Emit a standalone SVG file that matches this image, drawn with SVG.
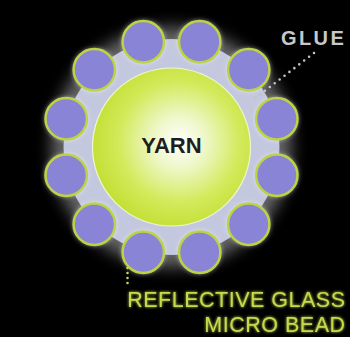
<svg xmlns="http://www.w3.org/2000/svg" width="350" height="337" viewBox="0 0 350 337">
<defs>
<style>
.bead circle{fill:#8a84d6;stroke:#bcd444;stroke-width:2.5}
.lbl{font-family:"Liberation Sans",Arial,sans-serif}
</style>
<radialGradient id="yg" cx="0.55" cy="0.47" r="0.55">
<stop offset="0" stop-color="#ffffff"/>
<stop offset="0.3" stop-color="#eef7c8"/>
<stop offset="0.7" stop-color="#d2ea5a"/>
<stop offset="1" stop-color="#c4e036"/>
</radialGradient>
<filter id="blur12" x="-50%" y="-50%" width="200%" height="200%"><feGaussianBlur stdDeviation="8"/></filter>
<filter id="blur3" x="-50%" y="-50%" width="200%" height="200%"><feGaussianBlur stdDeviation="2.5"/></filter>
<filter id="tglow" x="-20%" y="-50%" width="140%" height="200%"><feGaussianBlur in="SourceGraphic" stdDeviation="1.5" result="b"/><feMerge><feMergeNode in="b"/><feMergeNode in="SourceGraphic"/></feMerge></filter>
</defs>
<rect width="350" height="337" fill="#000"/>
<g id="halo">
<circle cx="171.5" cy="147" r="120" fill="#ffffff" opacity="0.4" filter="url(#blur12)"/>
</g>
<g id="glue">
<circle cx="171.5" cy="147" r="108" fill="#c4c8de"/>
</g>
<g id="beads" class="bead">
<g filter="url(#blur3)" opacity="0.55">
<circle cx="143.3" cy="41.7" r="21.5" style="fill:#fff;stroke:none"/>
<circle cx="199.7" cy="41.7" r="21.5" style="fill:#fff;stroke:none"/>
<circle cx="248.7" cy="69.8" r="21.5" style="fill:#fff;stroke:none"/>
<circle cx="276.8" cy="118.8" r="21.5" style="fill:#fff;stroke:none"/>
<circle cx="276.8" cy="175.2" r="21.5" style="fill:#fff;stroke:none"/>
<circle cx="248.7" cy="224.2" r="21.5" style="fill:#fff;stroke:none"/>
<circle cx="199.7" cy="252.3" r="21.5" style="fill:#fff;stroke:none"/>
<circle cx="143.3" cy="252.3" r="21.5" style="fill:#fff;stroke:none"/>
<circle cx="94.3" cy="224.2" r="21.5" style="fill:#fff;stroke:none"/>
<circle cx="66.2" cy="175.2" r="21.5" style="fill:#fff;stroke:none"/>
<circle cx="66.2" cy="118.8" r="21.5" style="fill:#fff;stroke:none"/>
<circle cx="94.3" cy="69.8" r="21.5" style="fill:#fff;stroke:none"/>
</g>
<g id="bead1"><circle cx="143.3" cy="41.7" r="20.7"/></g>
<g id="bead2"><circle cx="199.7" cy="41.7" r="20.7"/></g>
<g id="bead3"><circle cx="248.7" cy="69.8" r="20.7"/></g>
<g id="bead4"><circle cx="276.8" cy="118.8" r="20.7"/></g>
<g id="bead5"><circle cx="276.8" cy="175.2" r="20.7"/></g>
<g id="bead6"><circle cx="248.7" cy="224.2" r="20.7"/></g>
<g id="bead7"><circle cx="199.7" cy="252.3" r="20.7"/></g>
<g id="bead8"><circle cx="143.3" cy="252.3" r="20.7"/></g>
<g id="bead9"><circle cx="94.3" cy="224.2" r="20.7"/></g>
<g id="bead10"><circle cx="66.2" cy="175.2" r="20.7"/></g>
<g id="bead11"><circle cx="66.2" cy="118.8" r="20.7"/></g>
<g id="bead12"><circle cx="94.3" cy="69.8" r="20.7"/></g>
</g>
<g id="yarn">
<circle cx="171.5" cy="147" r="79" fill="url(#yg)" stroke="#eef6d0" stroke-width="1.2"/>
<text class="lbl" x="171.5" y="153" text-anchor="middle" font-size="22" font-weight="bold" fill="#1e1e1e">YARN</text>
</g>
<g id="connectors" stroke-linecap="round" fill="none">
<line x1="314" y1="53" x2="253" y2="100" stroke="#c4c4c8" stroke-width="2.6" stroke-dasharray="0 6.2"/>
<line x1="127.5" y1="268" x2="127.5" y2="288" stroke="#c4d84a" stroke-width="2.6" stroke-dasharray="0 5"/>
</g>
<g id="glue-label">
<text class="lbl" x="281" y="44.5" font-size="20" font-weight="bold" letter-spacing="2.4" fill="#c8c8c8">GLUE</text>
</g>
<g id="bead-label" filter="url(#tglow)">
<text class="lbl" x="345.5" y="307" text-anchor="end" font-size="21.5" letter-spacing="0.5" fill="#c6da4c">REFLECTIVE GLASS</text>
<text class="lbl" x="345.5" y="332" text-anchor="end" font-size="21.5" letter-spacing="0.5" fill="#c6da4c">MICRO BEAD</text>
</g>
</svg>
